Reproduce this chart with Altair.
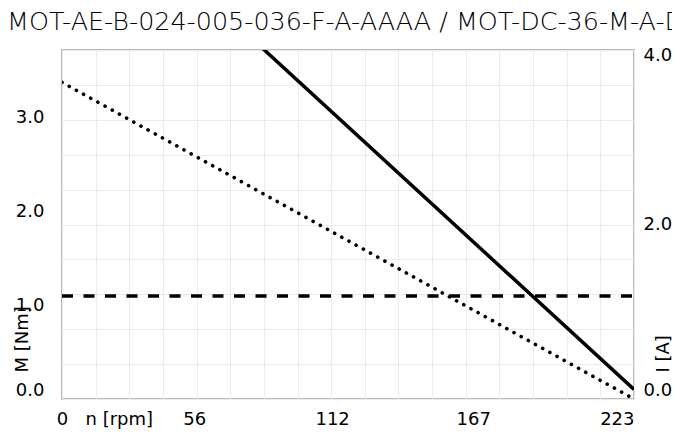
import altair as alt
import pandas as pd

title_text = "MOT-AE-B-024-005-036-F-A-AAAA / MOT-DC-36-M-A-D"
speed_rpm = [0, 223]
torque_Nm = [3.38, 0.0]
current_A = [6.13, 0.11]
rated_torque_Nm = [1.1, 1.1]
x_tick_labels = [0, 56, 112, 167, 223]
m_ticks = [0, 1, 2, 3]
i_ticks = [0, 0.4, 0.8, 1.2, 1.6, 2.0, 2.4, 2.8, 3.2, 3.6, 4.0]
x_max = 223
m_max = 3.725
i_max = 4.0
x_grid = [round(k * x_max / 17, 4) for k in range(18)]

df = pd.DataFrame({"n": speed_rpm, "M": torque_Nm, "I": current_A, "Mr": rated_torque_Nm})

FONT = "DejaVu Sans"
GRID = "#ebebeb"
xs = alt.Scale(domain=[0, x_max], nice=False, zero=False)
ms = alt.Scale(domain=[0, m_max], nice=False)
iscale = alt.Scale(domain=[0, i_max], nice=False)

common = dict(labelFont=FONT, labelFontSize=18, labelColor="black",
              titleFont=FONT, titleFontSize=18, titleFontWeight="normal", titleColor="black",
              ticks=False, tickSize=0, domain=False, labelOverlap=False)

x_axis = alt.Axis(values=x_tick_labels, grid=False, labelPadding=11,
                  labelAlign={"condition": {"test": "datum.value === 0", "value": "center"}, "value": "right"},
                  labelFlush=False, title="n [rpm]", titleX=23, titleY=11,
                  titleAlign="left", titleBaseline="top", **common)
xgrid_axis = alt.Axis(orient="top", values=x_grid, labels=False, grid=True,
                      gridColor=GRID, gridWidth=1, **common)
m_axis = alt.Axis(orient="left", values=m_ticks, format=".1f", grid=False, labelPadding=18,
                  labelFlush=True, title="M [Nm]", titleAngle=270, titleX=-40, titleY=322,
                  titleAlign="left", titleBaseline="middle", **common)
i_axis = alt.Axis(orient="right", values=i_ticks,
                  labelExpr="(datum.value == 0 || datum.value == 2 || datum.value == 4) ? format(datum.value, '.1f') : ''",
                  labelOffset={"condition": {"test": "datum.value === 4", "value": -4}, "value": 0},
                  grid=True, gridColor=GRID, gridWidth=1, labelPadding=9, labelFlush=True,
                  title="I [A]", titleAngle=270, titleX=29, titleY=322,
                  titleAlign="left", titleBaseline="middle", **common)

base = alt.Chart(df)
solid = base.mark_line(color="black", strokeWidth=3.5, clip=True).encode(
    x=alt.X("n:Q", scale=xs, axis=xgrid_axis, title=None),
    y=alt.Y("I:Q", scale=iscale, axis=i_axis),
)
dotted = base.mark_line(color="black", strokeWidth=3.6, strokeDash=[0.1, 8.1], strokeCap="round", clip=True).encode(
    x=alt.X("n:Q", scale=xs, axis=x_axis),
    y=alt.Y("M:Q", scale=ms, axis=m_axis),
)
dashed = base.mark_line(color="black", strokeWidth=3.5, strokeDash=[11, 10.5], clip=True).encode(
    x=alt.X("n:Q", scale=xs, axis=None),
    y=alt.Y("Mr:Q", scale=ms, axis=None),
)

chart = alt.layer(solid, dotted, dashed).resolve_scale(
    y="independent"
).resolve_axis(x="independent", y="independent").properties(
    width=572, height=349,
    autosize=alt.AutoSizeParams(type="none"),
    padding={"left": 54, "top": 42, "right": 38, "bottom": 35},
    title=alt.TitleParams(text=title_text, anchor="start", font=FONT, fontSize=25.4,
                          fontWeight=200, color="#000000", dx=-6, dy=25, offset=16,
                          baseline="alphabetic"),
).configure_view(stroke="#bbbbbb", strokeWidth=2)

chart.save("out.html", embed_options={"renderer": "svg", "actions": False})
